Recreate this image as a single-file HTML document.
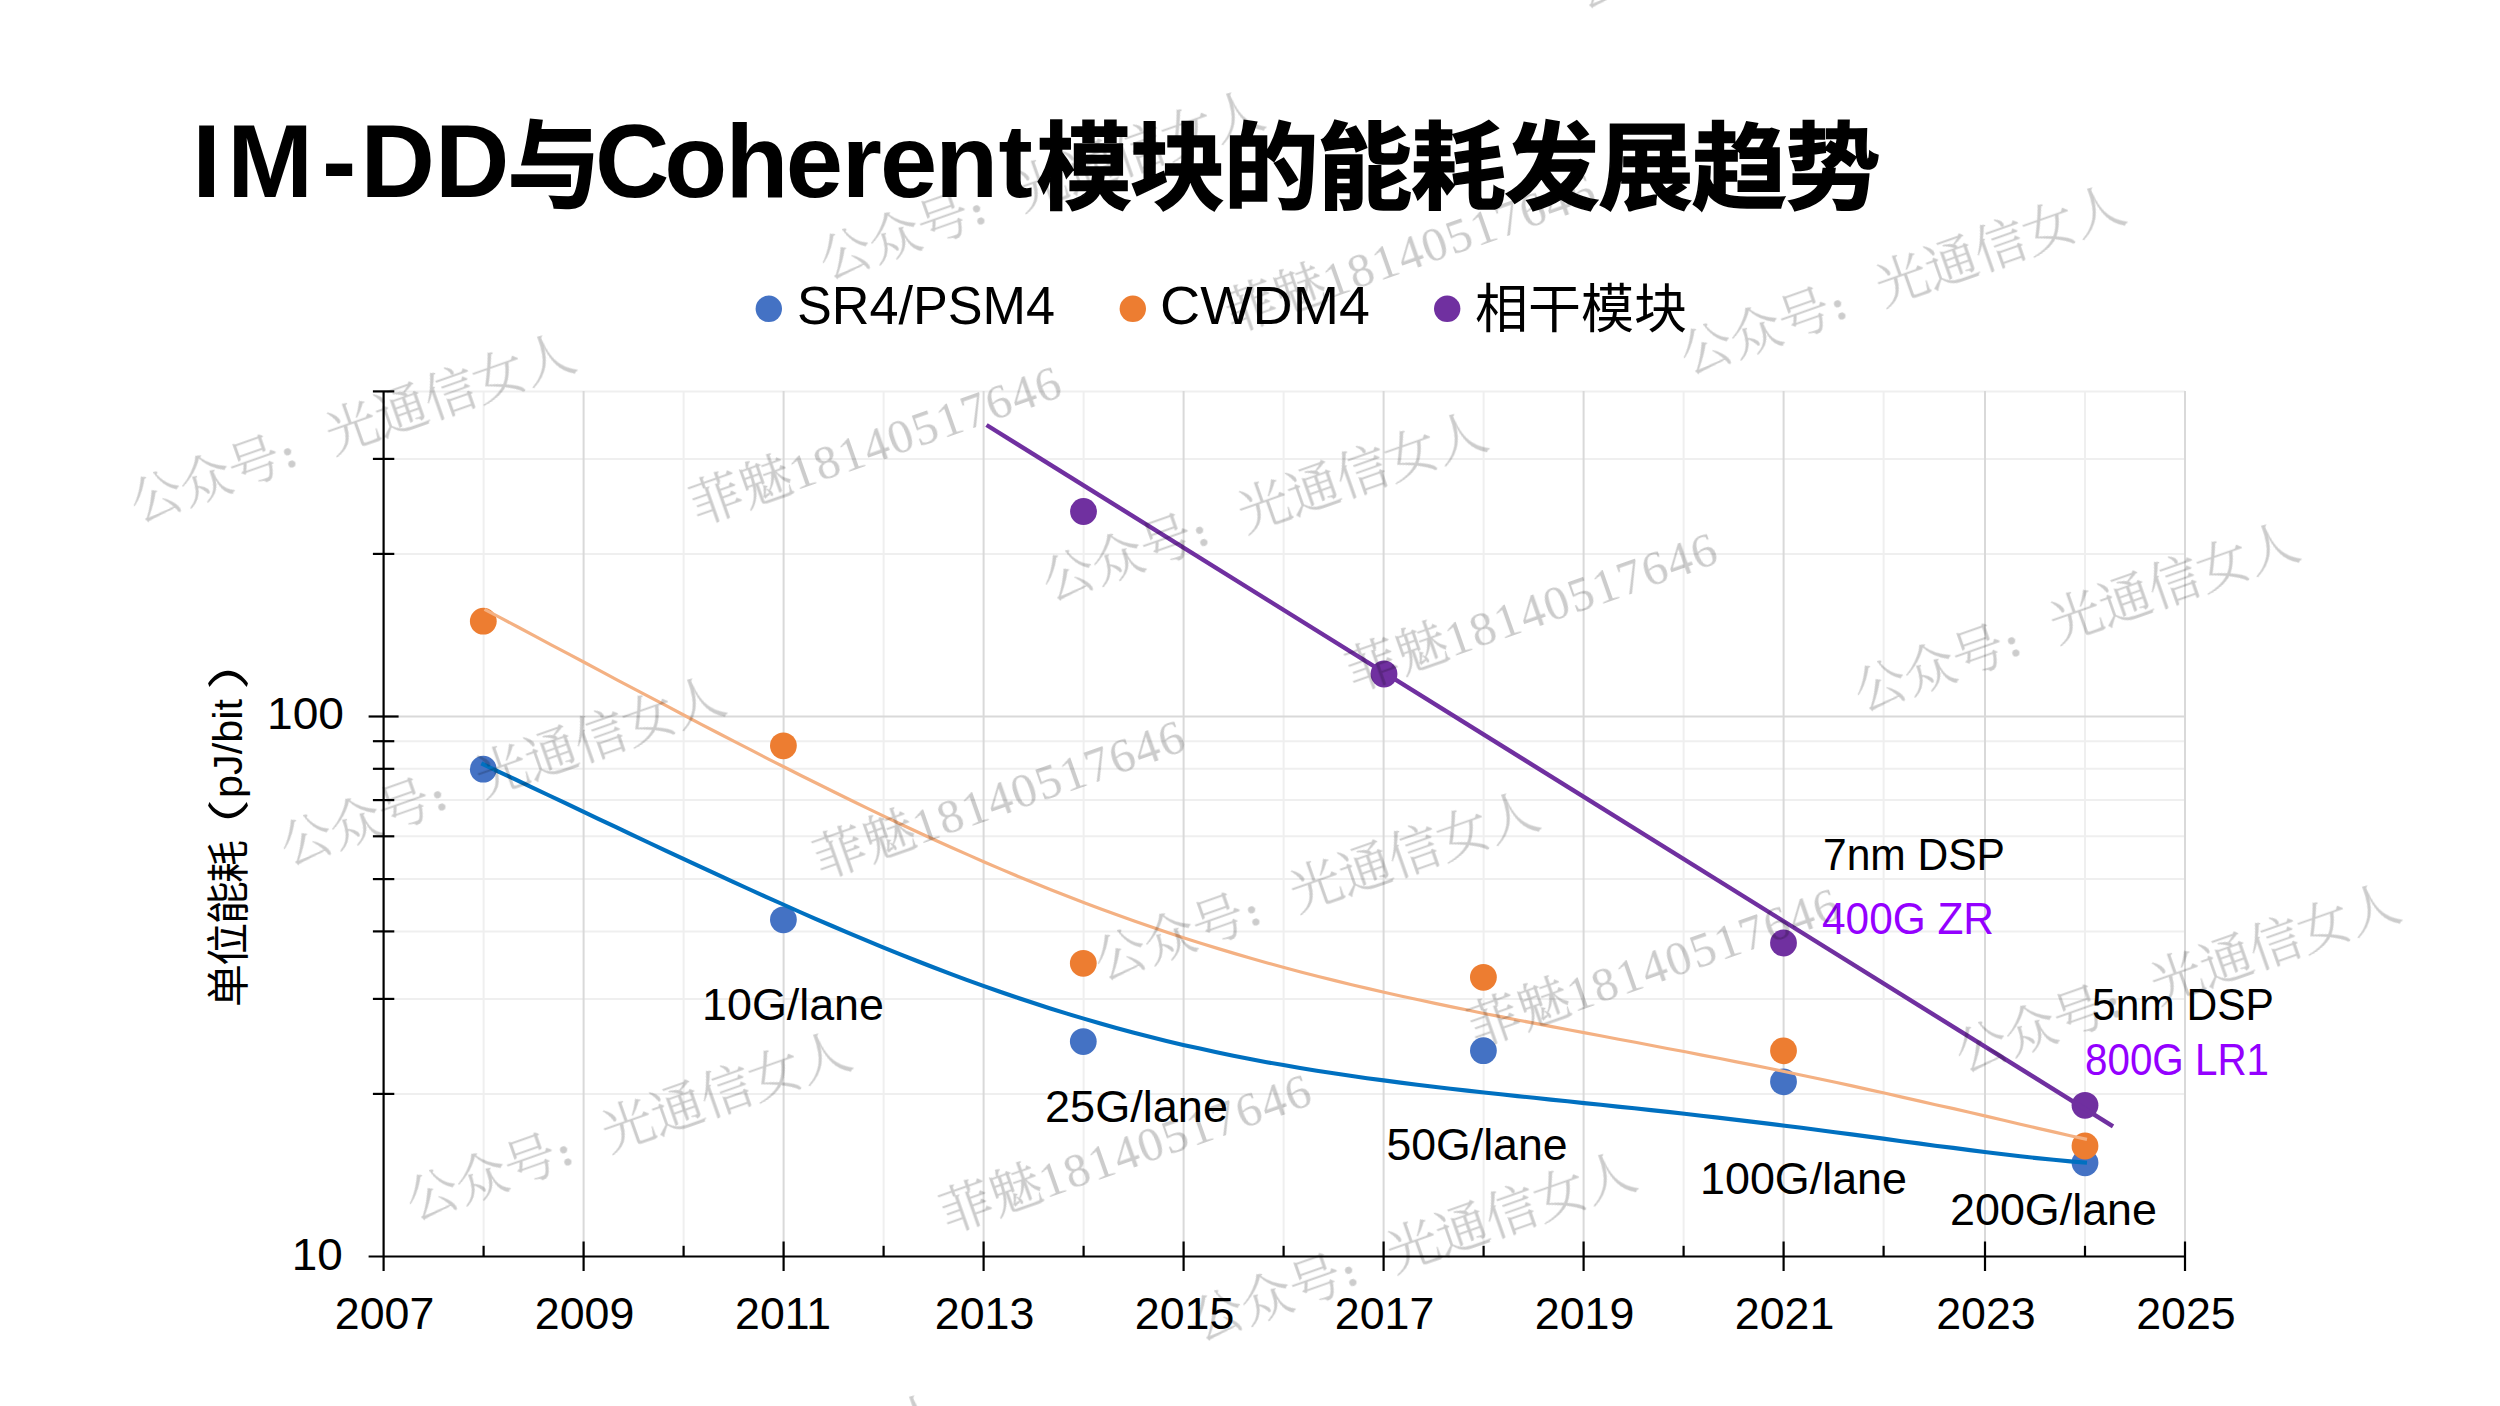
<!DOCTYPE html>
<html lang="zh"><head><meta charset="utf-8"><title>IM-DD与Coherent模块的能耗发展趋势</title>
<style>
html,body{margin:0;padding:0;background:#fff;}
body{width:2500px;height:1406px;overflow:hidden;position:relative;}
svg{position:absolute;left:0;top:0;display:block;}
.lat{font-family:"Liberation Sans","Noto Sans CJK SC",sans-serif;}
.cjk{font-family:"Liberation Sans","Noto Sans CJK SC",sans-serif;}
.wm{font-family:"Liberation Serif","Noto Serif CJK SC",serif;font-weight:300;fill:#000;stroke:#000;stroke-width:0.35px;}
</style></head><body>
<svg width="2500" height="1406" viewBox="0 0 2500 1406">
<rect width="2500" height="1406" fill="#fff"/>
<g id="grid"><line x1="383.6" y1="1093.9" x2="2185.0" y2="1093.9" stroke="#efefef" stroke-width="2"/><line x1="383.6" y1="998.9" x2="2185.0" y2="998.9" stroke="#efefef" stroke-width="2"/><line x1="383.6" y1="931.4" x2="2185.0" y2="931.4" stroke="#efefef" stroke-width="2"/><line x1="383.6" y1="879.1" x2="2185.0" y2="879.1" stroke="#efefef" stroke-width="2"/><line x1="383.6" y1="836.3" x2="2185.0" y2="836.3" stroke="#efefef" stroke-width="2"/><line x1="383.6" y1="800.1" x2="2185.0" y2="800.1" stroke="#efefef" stroke-width="2"/><line x1="383.6" y1="768.8" x2="2185.0" y2="768.8" stroke="#efefef" stroke-width="2"/><line x1="383.6" y1="741.2" x2="2185.0" y2="741.2" stroke="#efefef" stroke-width="2"/><line x1="383.6" y1="553.9" x2="2185.0" y2="553.9" stroke="#efefef" stroke-width="2"/><line x1="383.6" y1="458.9" x2="2185.0" y2="458.9" stroke="#efefef" stroke-width="2"/><line x1="383.6" y1="391.4" x2="2185.0" y2="391.4" stroke="#efefef" stroke-width="2"/><line x1="483.6" y1="391.0" x2="483.6" y2="1256.5" stroke="#efefef" stroke-width="2"/><line x1="683.6" y1="391.0" x2="683.6" y2="1256.5" stroke="#efefef" stroke-width="2"/><line x1="883.6" y1="391.0" x2="883.6" y2="1256.5" stroke="#efefef" stroke-width="2"/><line x1="1083.6" y1="391.0" x2="1083.6" y2="1256.5" stroke="#efefef" stroke-width="2"/><line x1="1283.6" y1="391.0" x2="1283.6" y2="1256.5" stroke="#efefef" stroke-width="2"/><line x1="1483.6" y1="391.0" x2="1483.6" y2="1256.5" stroke="#efefef" stroke-width="2"/><line x1="1683.6" y1="391.0" x2="1683.6" y2="1256.5" stroke="#efefef" stroke-width="2"/><line x1="1883.6" y1="391.0" x2="1883.6" y2="1256.5" stroke="#efefef" stroke-width="2"/><line x1="2085.0" y1="391.0" x2="2085.0" y2="1256.5" stroke="#efefef" stroke-width="2"/><line x1="583.6" y1="391.0" x2="583.6" y2="1256.5" stroke="#d9d9d9" stroke-width="2"/><line x1="783.6" y1="391.0" x2="783.6" y2="1256.5" stroke="#d9d9d9" stroke-width="2"/><line x1="983.6" y1="391.0" x2="983.6" y2="1256.5" stroke="#d9d9d9" stroke-width="2"/><line x1="1183.6" y1="391.0" x2="1183.6" y2="1256.5" stroke="#d9d9d9" stroke-width="2"/><line x1="1383.6" y1="391.0" x2="1383.6" y2="1256.5" stroke="#d9d9d9" stroke-width="2"/><line x1="1583.6" y1="391.0" x2="1583.6" y2="1256.5" stroke="#d9d9d9" stroke-width="2"/><line x1="1783.6" y1="391.0" x2="1783.6" y2="1256.5" stroke="#d9d9d9" stroke-width="2"/><line x1="1985.0" y1="391.0" x2="1985.0" y2="1256.5" stroke="#d9d9d9" stroke-width="2"/><line x1="2185.0" y1="391.0" x2="2185.0" y2="1256.5" stroke="#d9d9d9" stroke-width="2"/><line x1="383.6" y1="716.5" x2="2185.0" y2="716.5" stroke="#d9d9d9" stroke-width="2"/></g>
<g id="axes"><line x1="383.6" y1="391.0" x2="383.6" y2="1271.0" stroke="#000" stroke-width="2.2"/><line x1="368.6" y1="1256.5" x2="2185.0" y2="1256.5" stroke="#000" stroke-width="2.2"/><line x1="372.9" y1="1093.9" x2="394.3" y2="1093.9" stroke="#000" stroke-width="2.2"/><line x1="372.9" y1="998.9" x2="394.3" y2="998.9" stroke="#000" stroke-width="2.2"/><line x1="372.9" y1="931.4" x2="394.3" y2="931.4" stroke="#000" stroke-width="2.2"/><line x1="372.9" y1="879.1" x2="394.3" y2="879.1" stroke="#000" stroke-width="2.2"/><line x1="372.9" y1="836.3" x2="394.3" y2="836.3" stroke="#000" stroke-width="2.2"/><line x1="372.9" y1="800.1" x2="394.3" y2="800.1" stroke="#000" stroke-width="2.2"/><line x1="372.9" y1="768.8" x2="394.3" y2="768.8" stroke="#000" stroke-width="2.2"/><line x1="372.9" y1="741.2" x2="394.3" y2="741.2" stroke="#000" stroke-width="2.2"/><line x1="372.9" y1="553.9" x2="394.3" y2="553.9" stroke="#000" stroke-width="2.2"/><line x1="372.9" y1="458.9" x2="394.3" y2="458.9" stroke="#000" stroke-width="2.2"/><line x1="372.9" y1="391.4" x2="394.3" y2="391.4" stroke="#000" stroke-width="2.2"/><line x1="368.6" y1="716.5" x2="398.6" y2="716.5" stroke="#000" stroke-width="2.2"/><line x1="583.6" y1="1241.5" x2="583.6" y2="1271.0" stroke="#000" stroke-width="2.2"/><line x1="783.6" y1="1241.5" x2="783.6" y2="1271.0" stroke="#000" stroke-width="2.2"/><line x1="983.6" y1="1241.5" x2="983.6" y2="1271.0" stroke="#000" stroke-width="2.2"/><line x1="1183.6" y1="1241.5" x2="1183.6" y2="1271.0" stroke="#000" stroke-width="2.2"/><line x1="1383.6" y1="1241.5" x2="1383.6" y2="1271.0" stroke="#000" stroke-width="2.2"/><line x1="1583.6" y1="1241.5" x2="1583.6" y2="1271.0" stroke="#000" stroke-width="2.2"/><line x1="1783.6" y1="1241.5" x2="1783.6" y2="1271.0" stroke="#000" stroke-width="2.2"/><line x1="1985.0" y1="1241.5" x2="1985.0" y2="1271.0" stroke="#000" stroke-width="2.2"/><line x1="2185.0" y1="1241.5" x2="2185.0" y2="1271.0" stroke="#000" stroke-width="2.2"/><line x1="483.6" y1="1245.8" x2="483.6" y2="1256.5" stroke="#000" stroke-width="2.2"/><line x1="683.6" y1="1245.8" x2="683.6" y2="1256.5" stroke="#000" stroke-width="2.2"/><line x1="883.6" y1="1245.8" x2="883.6" y2="1256.5" stroke="#000" stroke-width="2.2"/><line x1="1083.6" y1="1245.8" x2="1083.6" y2="1256.5" stroke="#000" stroke-width="2.2"/><line x1="1283.6" y1="1245.8" x2="1283.6" y2="1256.5" stroke="#000" stroke-width="2.2"/><line x1="1483.6" y1="1245.8" x2="1483.6" y2="1256.5" stroke="#000" stroke-width="2.2"/><line x1="1683.6" y1="1245.8" x2="1683.6" y2="1256.5" stroke="#000" stroke-width="2.2"/><line x1="1883.6" y1="1245.8" x2="1883.6" y2="1256.5" stroke="#000" stroke-width="2.2"/><line x1="2085.0" y1="1245.8" x2="2085.0" y2="1256.5" stroke="#000" stroke-width="2.2"/></g>
<g id="dots"><circle cx="483.3" cy="769.2" r="13.4" fill="#4472c4"/><circle cx="783.4" cy="919.8" r="13.4" fill="#4472c4"/><circle cx="1083.3" cy="1041.6" r="13.4" fill="#4472c4"/><circle cx="1483.4" cy="1050.7" r="13.4" fill="#4472c4"/><circle cx="1783.5" cy="1081.8" r="13.4" fill="#4472c4"/><circle cx="2085" cy="1162.8" r="13.4" fill="#4472c4"/><circle cx="483.3" cy="621.2" r="13.4" fill="#ed7d31"/><circle cx="783.4" cy="745.8" r="13.4" fill="#ed7d31"/><circle cx="1083.3" cy="963.3" r="13.4" fill="#ed7d31"/><circle cx="1483.4" cy="977.3" r="13.4" fill="#ed7d31"/><circle cx="1783.5" cy="1050.8" r="13.4" fill="#ed7d31"/><circle cx="2085" cy="1146" r="13.4" fill="#ed7d31"/><circle cx="1083.5" cy="511.5" r="13.4" fill="#7030a0"/><circle cx="1384" cy="674" r="13.4" fill="#7030a0"/><circle cx="1783.5" cy="943" r="13.4" fill="#7030a0"/><circle cx="2085" cy="1105.3" r="13.4" fill="#7030a0"/></g>
<path d="M481.3 763.4 L498.0 771.3 L514.7 779.2 L531.4 787.1 L548.1 795.0 L564.9 802.9 L581.6 810.9 L598.3 818.8 L615.0 826.7 L631.7 834.6 L648.4 842.5 L665.1 850.3 L681.8 858.1 L698.5 865.9 L715.3 873.7 L732.0 881.4 L748.7 889.0 L765.4 896.6 L782.1 904.0 L798.8 911.5 L815.5 918.8 L832.2 926.0 L848.9 933.1 L865.7 940.2 L882.4 947.1 L899.1 953.8 L915.8 960.5 L932.5 967.0 L949.2 973.4 L965.9 979.6 L982.6 985.6 L999.3 991.5 L1016.1 997.3 L1032.8 1002.8 L1049.5 1008.2 L1066.2 1013.4 L1082.9 1018.4 L1099.6 1023.3 L1116.3 1028.0 L1133.0 1032.5 L1149.7 1036.8 L1166.4 1040.9 L1183.2 1044.9 L1199.9 1048.6 L1216.6 1052.3 L1233.3 1055.7 L1250.0 1059.0 L1266.7 1062.2 L1283.4 1065.1 L1300.1 1068.0 L1316.8 1070.7 L1333.6 1073.3 L1350.3 1075.8 L1367.0 1078.2 L1383.7 1080.4 L1400.4 1082.6 L1417.1 1084.7 L1433.8 1086.7 L1450.5 1088.7 L1467.2 1090.6 L1484.0 1092.5 L1500.7 1094.3 L1517.4 1096.1 L1534.1 1097.8 L1550.8 1099.6 L1567.5 1101.3 L1584.2 1103.1 L1600.9 1104.8 L1617.6 1106.6 L1634.4 1108.3 L1651.1 1110.1 L1667.8 1111.9 L1684.5 1113.8 L1701.2 1115.7 L1717.9 1117.6 L1734.6 1119.6 L1751.3 1121.6 L1768.0 1123.6 L1784.8 1125.7 L1801.5 1127.8 L1818.2 1130.0 L1834.9 1132.2 L1851.6 1134.4 L1868.3 1136.6 L1885.0 1138.9 L1901.7 1141.2 L1918.4 1143.4 L1935.2 1145.7 L1953.3 1147.9 L1970.0 1150.1 L1986.7 1152.2 L2003.4 1154.3 L2020.2 1156.3 L2036.9 1158.1 L2053.6 1159.8 L2070.3 1161.4 L2087.0 1162.8" fill="none" stroke="#0070c0" stroke-width="4.1" stroke-linejoin="round"/>
<path d="M484.5 609.3 L501.2 618.2 L517.9 627.0 L534.5 635.9 L551.2 644.8 L567.9 653.7 L584.6 662.5 L601.2 671.4 L617.9 680.3 L634.6 689.1 L651.3 697.9 L668.0 706.7 L684.6 715.5 L701.3 724.3 L718.0 733.0 L734.7 741.6 L751.3 750.2 L768.0 758.8 L784.7 767.3 L801.4 775.7 L818.1 784.0 L834.7 792.3 L851.4 800.5 L868.1 808.6 L884.8 816.6 L901.4 824.5 L918.1 832.3 L934.8 840.0 L951.5 847.5 L968.2 854.9 L984.8 862.2 L1001.5 869.4 L1018.2 876.4 L1034.9 883.3 L1051.5 890.0 L1068.2 896.6 L1084.9 903.0 L1101.6 909.2 L1118.2 915.3 L1134.9 921.3 L1151.6 927.1 L1168.3 932.7 L1185.0 938.2 L1201.6 943.5 L1218.3 948.6 L1235.0 953.6 L1251.7 958.5 L1268.3 963.2 L1285.0 967.7 L1301.7 972.2 L1318.4 976.5 L1335.1 980.6 L1351.7 984.7 L1368.4 988.6 L1385.1 992.5 L1401.8 996.2 L1418.4 999.8 L1435.1 1003.4 L1451.8 1006.9 L1468.5 1010.3 L1485.2 1013.7 L1501.8 1016.9 L1518.5 1020.2 L1535.2 1023.4 L1551.9 1026.6 L1568.5 1029.8 L1585.2 1032.9 L1601.9 1036.0 L1618.6 1039.2 L1635.3 1042.3 L1651.9 1045.5 L1668.6 1048.7 L1685.3 1051.8 L1702.0 1055.1 L1718.6 1058.3 L1735.3 1061.6 L1752.0 1064.9 L1768.7 1068.3 L1785.4 1071.7 L1802.0 1075.2 L1818.7 1078.7 L1835.4 1082.3 L1852.1 1085.9 L1868.7 1089.6 L1885.4 1093.3 L1902.1 1097.1 L1918.8 1100.9 L1935.5 1104.7 L1953.6 1108.6 L1970.3 1112.5 L1986.9 1116.4 L2003.6 1120.3 L2020.3 1124.2 L2037.0 1128.1 L2053.6 1131.9 L2070.3 1135.7 L2087.0 1139.4" fill="none" stroke="#f4b183" stroke-width="3.2" stroke-linejoin="round"/>
<line x1="986.5" y1="425" x2="2113" y2="1126.3" stroke="#7030a0" stroke-width="4.4"/>
<text class="lat" font-weight="bold" font-size="103" x="192.2 227.2 321.9 360.5 434.9" y="197">IM-DD</text>
<text class="cjk" font-weight="bold" stroke="#000" stroke-width="1.6" font-size="97" x="507.5" y="200" textLength="93" lengthAdjust="spacingAndGlyphs">与</text>
<text class="lat" font-weight="bold" font-size="103" x="595.1 664.3 725.4 785.8 841.7 880.1 935.2 998.6" y="197">Coherent</text>
<text class="cjk" font-weight="bold" stroke="#000" stroke-width="1.6" font-size="95" x="1036.5" y="201.5" textLength="844" lengthAdjust="spacing">模块的能耗发展趋势</text>
<circle cx="768.8" cy="308.8" r="13.2" fill="#4472c4"/>
<circle cx="1132.8" cy="308.8" r="13.2" fill="#ed7d31"/>
<circle cx="1447.2" cy="308.8" r="13.2" fill="#7030a0"/>
<text class="lat" x="797" y="324" font-size="53" fill="#000" textLength="258" lengthAdjust="spacingAndGlyphs">SR4/PSM4</text>
<text class="lat" x="1160" y="324" font-size="53" fill="#000" textLength="210" lengthAdjust="spacingAndGlyphs">CWDM4</text>
<text class="cjk" x="1475" y="328" font-size="53" fill="#000" textLength="212" lengthAdjust="spacingAndGlyphs">相干模块</text>
<text class="lat" x="384.6" y="1329.3" font-size="44.6" fill="#000" text-anchor="middle" textLength="99.5" lengthAdjust="spacingAndGlyphs">2007</text>
<text class="lat" x="584.6" y="1329.3" font-size="44.6" fill="#000" text-anchor="middle" textLength="99.5" lengthAdjust="spacingAndGlyphs">2009</text>
<text class="lat" x="783.1" y="1329.3" font-size="44.6" fill="#000" text-anchor="middle" textLength="96" lengthAdjust="spacingAndGlyphs">2011</text>
<text class="lat" x="984.6" y="1329.3" font-size="44.6" fill="#000" text-anchor="middle" textLength="99.5" lengthAdjust="spacingAndGlyphs">2013</text>
<text class="lat" x="1184.6" y="1329.3" font-size="44.6" fill="#000" text-anchor="middle" textLength="99.5" lengthAdjust="spacingAndGlyphs">2015</text>
<text class="lat" x="1384.6" y="1329.3" font-size="44.6" fill="#000" text-anchor="middle" textLength="99.5" lengthAdjust="spacingAndGlyphs">2017</text>
<text class="lat" x="1584.6" y="1329.3" font-size="44.6" fill="#000" text-anchor="middle" textLength="99.5" lengthAdjust="spacingAndGlyphs">2019</text>
<text class="lat" x="1784.6" y="1329.3" font-size="44.6" fill="#000" text-anchor="middle" textLength="99.5" lengthAdjust="spacingAndGlyphs">2021</text>
<text class="lat" x="1986.0" y="1329.3" font-size="44.6" fill="#000" text-anchor="middle" textLength="99.5" lengthAdjust="spacingAndGlyphs">2023</text>
<text class="lat" x="2186.0" y="1329.3" font-size="44.6" fill="#000" text-anchor="middle" textLength="99.5" lengthAdjust="spacingAndGlyphs">2025</text>
<text class="lat" x="344" y="729.3" font-size="44.6" fill="#000" text-anchor="end" textLength="77" lengthAdjust="spacingAndGlyphs">100</text>
<text class="lat" x="342.7" y="1270" font-size="44.6" fill="#000" text-anchor="end" textLength="51" lengthAdjust="spacingAndGlyphs">10</text>
<g transform="translate(243.5,1006) rotate(-90)"><text class="cjk" font-size="43" x="-1" y="0" textLength="167" lengthAdjust="spacing">单位能耗</text><text class="cjk" font-size="42" transform="translate(144,0) scale(1.5,1)" x="0" y="0">（</text><text class="lat" font-size="41" x="208" y="-1.5" textLength="99" lengthAdjust="spacingAndGlyphs">pJ/bit</text><text class="cjk" font-size="42" transform="translate(316,0) scale(1.5,1)" x="0" y="0">）</text></g>
<text class="lat" x="702" y="1020.3" font-size="44.6" fill="#000" textLength="182" lengthAdjust="spacingAndGlyphs">10G/lane</text>
<text class="lat" x="1045" y="1122" font-size="44.6" fill="#000" textLength="183" lengthAdjust="spacingAndGlyphs">25G/lane</text>
<text class="lat" x="1386.5" y="1160" font-size="44.6" fill="#000" textLength="181" lengthAdjust="spacingAndGlyphs">50G/lane</text>
<text class="lat" x="1700" y="1194.4" font-size="44.6" fill="#000" textLength="207" lengthAdjust="spacingAndGlyphs">100G/lane</text>
<text class="lat" x="1950" y="1225" font-size="44.6" fill="#000" textLength="207" lengthAdjust="spacingAndGlyphs">200G/lane</text>
<text class="lat" x="1823" y="870" font-size="44.6" fill="#000" textLength="182" lengthAdjust="spacingAndGlyphs">7nm DSP</text>
<text class="lat" x="1822" y="933.5" font-size="44.6" fill="#9400ff" textLength="172" lengthAdjust="spacingAndGlyphs">400G ZR</text>
<text class="lat" x="2092" y="1019.6" font-size="44.6" fill="#000" textLength="182" lengthAdjust="spacingAndGlyphs">5nm DSP</text>
<text class="lat" x="2085" y="1074.5" font-size="44.6" fill="#9400ff" textLength="184" lengthAdjust="spacingAndGlyphs">800G LR1</text>
<g id="wm" opacity="0.2"><text class="wm" font-size="52" transform="translate(138,523) rotate(-19.4)" letter-spacing="-0.1">公众号<tspan font-size="34" font-weight="900" dx="-0.6">：</tspan><tspan dx="18.6">光通信女人</tspan></text><text class="wm" font-size="52" transform="translate(827,280) rotate(-19.4)" letter-spacing="-0.1">公众号<tspan font-size="34" font-weight="900" dx="-0.6">：</tspan><tspan dx="18.6">光通信女人</tspan></text><text class="wm" font-size="52" transform="translate(1688,375) rotate(-19.4)" letter-spacing="-0.1">公众号<tspan font-size="34" font-weight="900" dx="-0.6">：</tspan><tspan dx="18.6">光通信女人</tspan></text><text class="wm" font-size="52" transform="translate(1050,601.5) rotate(-19.4)" letter-spacing="-0.1">公众号<tspan font-size="34" font-weight="900" dx="-0.6">：</tspan><tspan dx="18.6">光通信女人</tspan></text><text class="wm" font-size="52" transform="translate(1862,712) rotate(-19.4)" letter-spacing="-0.1">公众号<tspan font-size="34" font-weight="900" dx="-0.6">：</tspan><tspan dx="18.6">光通信女人</tspan></text><text class="wm" font-size="52" transform="translate(288,866) rotate(-19.4)" letter-spacing="-0.1">公众号<tspan font-size="34" font-weight="900" dx="-0.6">：</tspan><tspan dx="18.6">光通信女人</tspan></text><text class="wm" font-size="52" transform="translate(1102,981) rotate(-19.4)" letter-spacing="-0.1">公众号<tspan font-size="34" font-weight="900" dx="-0.6">：</tspan><tspan dx="18.6">光通信女人</tspan></text><text class="wm" font-size="52" transform="translate(1963,1073) rotate(-19.4)" letter-spacing="-0.1">公众号<tspan font-size="34" font-weight="900" dx="-0.6">：</tspan><tspan dx="18.6">光通信女人</tspan></text><text class="wm" font-size="52" transform="translate(414,1221) rotate(-19.4)" letter-spacing="-0.1">公众号<tspan font-size="34" font-weight="900" dx="-0.6">：</tspan><tspan dx="18.6">光通信女人</tspan></text><text class="wm" font-size="52" transform="translate(1199,1341.5) rotate(-19.4)" letter-spacing="-0.1">公众号<tspan font-size="34" font-weight="900" dx="-0.6">：</tspan><tspan dx="18.6">光通信女人</tspan></text><text class="wm" font-size="52" transform="translate(1582,9) rotate(-19.4)" letter-spacing="-0.1">公众号<tspan font-size="34" font-weight="900" dx="-0.6">：</tspan><tspan dx="18.6">光通信女人</tspan></text><text class="wm" font-size="52" transform="translate(510,1583) rotate(-19.4)" letter-spacing="-0.1">公众号<tspan font-size="34" font-weight="900" dx="-0.6">：</tspan><tspan dx="18.6">光通信女人</tspan></text><text class="wm" font-size="52" transform="translate(698,525) rotate(-19.4)">菲魅<tspan font-size="49" letter-spacing="1.5" stroke="none">18140517646</tspan></text><text class="wm" font-size="52" transform="translate(1232,333) rotate(-19.4)">菲魅<tspan font-size="49" letter-spacing="1.5" stroke="none">18140517646</tspan></text><text class="wm" font-size="52" transform="translate(1354,691.5) rotate(-19.4)">菲魅<tspan font-size="49" letter-spacing="1.5" stroke="none">18140517646</tspan></text><text class="wm" font-size="52" transform="translate(821.5,879) rotate(-19.4)">菲魅<tspan font-size="49" letter-spacing="1.5" stroke="none">18140517646</tspan></text><text class="wm" font-size="52" transform="translate(1476,1047) rotate(-19.4)">菲魅<tspan font-size="49" letter-spacing="1.5" stroke="none">18140517646</tspan></text><text class="wm" font-size="52" transform="translate(948,1233) rotate(-19.4)">菲魅<tspan font-size="49" letter-spacing="1.5" stroke="none">18140517646</tspan></text></g>
</svg></body></html>
